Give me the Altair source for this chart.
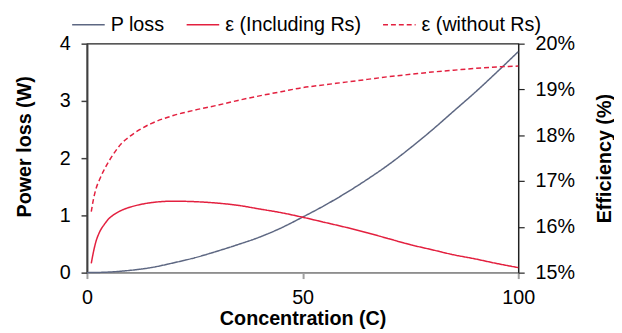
import altair as alt
import pandas as pd

# ---- data ----
conc_p = [0, 5, 10, 15, 20, 25, 30, 35, 40, 45, 50, 55, 60, 65, 70, 75, 80, 85, 90, 95, 100]
p_loss = [0, 0.01, 0.04, 0.09, 0.17, 0.26, 0.37, 0.49, 0.62, 0.78, 0.97, 1.17, 1.39, 1.63, 1.89, 2.18, 2.49, 2.82, 3.15, 3.50, 3.86]

conc_e = [1, 1.5, 2, 3, 4, 5, 6, 8, 10, 12, 15, 20, 25, 30, 35, 40, 45, 50,
          55, 60, 65, 70, 75, 80, 85, 90, 95, 100]
eff_rs = [15.20, 15.45, 15.65, 15.90, 16.05, 16.17, 16.25, 16.36, 16.43, 16.48, 16.53, 16.56,
          16.55, 16.52, 16.47, 16.39, 16.31, 16.21, 16.10, 15.99, 15.87, 15.74, 15.61,
          15.50, 15.39, 15.30, 15.20, 15.11]
eff_no_rs = [16.33, 16.60, 16.80, 17.05, 17.25, 17.42, 17.57, 17.82, 17.98, 18.11, 18.26, 18.43,
             18.55, 18.65, 18.76, 18.86, 18.95, 19.04, 19.10, 19.16, 19.22, 19.28, 19.33,
             19.38, 19.42, 19.46, 19.49, 19.51]

series = ["P loss", "ε (Including Rs)", "ε (without Rs)"]
colors = ["#5d6782", "#e3203f", "#e3203f"]
dashes = [[1, 0], [1, 0], [5, 3]]

x_ticks = [0, 50, 100]
p_ticks = [0, 1, 2, 3, 4]
e_ticks = [15, 16, 17, 18, 19, 20]

df_p = pd.DataFrame({"C": conc_p, "P": p_loss, "series": series[0]})
df_e = pd.concat([
    pd.DataFrame({"C": conc_e, "E": eff_rs, "series": series[1]}),
    pd.DataFrame({"C": conc_e, "E": eff_no_rs, "series": series[2]}),
])

FONT = "Liberation Sans"

legend = alt.Legend(
    title=None, orient="none", legendX=-16, legendY=-37, direction="horizontal",
    symbolType="stroke", symbolSize=1089, symbolStrokeWidth=1.5,
    labelFont=FONT, labelFontSize=20, labelColor="black", labelLimit=400,
    columnPadding=19, labelOffset=5, padding=0,
)

color = alt.Color("series:N", scale=alt.Scale(domain=series, range=colors), legend=legend)
dash = alt.StrokeDash("series:N", scale=alt.Scale(domain=series, range=dashes), legend=legend)

x = alt.X("C:Q", scale=alt.Scale(domain=[0, 100], nice=False),
          axis=alt.Axis(values=x_ticks, title="Concentration (C)", domainColor="#a0a0a0",
                        tickColor="#a0a0a0", domainWidth=2, tickWidth=2, labelPadding=9,
                        titlePadding=2))

left = alt.Chart(df_p).mark_line(strokeWidth=1.5, interpolate="monotone").encode(
    x=x,
    y=alt.Y("P:Q", scale=alt.Scale(domain=[0, 4], nice=False),
            axis=alt.Axis(values=p_ticks, title="Power loss (W)", orient="left",
                          domainColor="#404040", tickColor="#404040", domainWidth=2,
                          tickWidth=1.5, titleAngle=270, titlePadding=25, titleY=104)),
    color=color, strokeDash=dash,
)

right = alt.Chart(df_e).mark_line(strokeWidth=1.5, interpolate="monotone").encode(
    x=x,
    y=alt.Y("E:Q", scale=alt.Scale(domain=[15, 20], nice=False),
            axis=alt.Axis(values=e_ticks, title="Efficiency (%)", orient="right",
                          labelExpr="datum.value + '%'",
                          domainColor="#222222", tickColor="#222222", domainWidth=1.2,
                          tickWidth=1.2, titleAngle=270, titleBaseline="top",
                          titlePadding=20)),
    color=color, strokeDash=dash,
)

chart = alt.layer(left, right).resolve_scale(y="independent").properties(
    width=437, height=232,
    autosize=alt.AutoSizeParams(type="none"),
    padding={"left": 80, "top": 34, "right": 97, "bottom": 57},
).configure_axis(
    labelFont=FONT, labelFontSize=20, labelColor="black", labelFlush=False,
    titleFont=FONT, titleFontSize=20, titleFontWeight="bold", titleColor="black",
    grid=False, tickSize=6, labelPadding=11,
).configure_view(stroke="#222222", strokeWidth=1.2)

chart.save("out.html", embed_options={"renderer": "svg", "actions": False})
